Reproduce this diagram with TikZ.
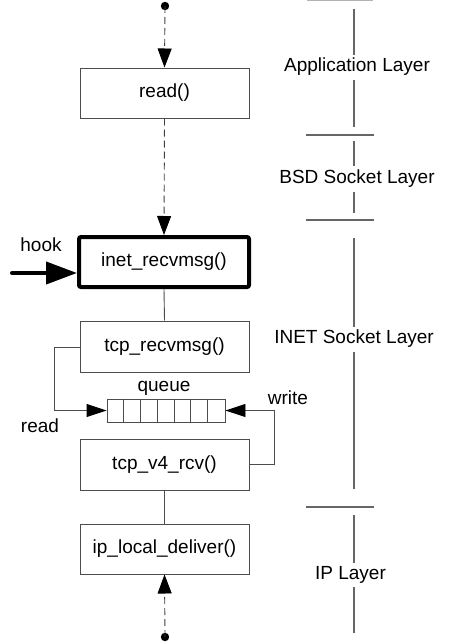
\documentclass[tikz,border=0pt]{standalone}
\usepackage{fontspec}
\setmainfont{Liberation Sans}
\usetikzlibrary{arrows.meta}
\begin{document}
\begin{tikzpicture}[x=1pt,y=-1pt,
  every node/.style={font=\fontsize{19}{21}\selectfont},
  fbox/.style={draw=black!70,line width=1pt,minimum width=169pt,minimum height=50pt,inner sep=0pt},
  hookbox/.style={draw=black,line width=4pt,rounded corners=2pt,minimum width=170pt,minimum height=50pt,inner sep=0pt},
  dsh/.style={draw=black!75,line width=0.9pt,dash pattern=on 7pt off 4pt},
  bigtip/.style={-{Triangle[length=19pt,width=14pt,color=black]}},
  qtip/.style={-{Triangle[length=20pt,width=13pt,color=black]}},
  link/.style={draw=black!70,line width=0.9pt},
  layer/.style={draw=black!60,line width=1.1pt},
  lbl/.style={inner sep=0pt},
  dot/.style={fill=black}
]
\useasboundingbox (0,0) rectangle (474,642);
% boxes
\node[fbox] (read) at (164.5,93) {read()};
\node[hookbox] (inet) at (164,262) {inet\_recvmsg()};
\node[fbox,minimum height=51pt] (tcprecv) at (164.5,346.5) {tcp\_recvmsg()};
\node[fbox,minimum height=51pt] (tcpv4) at (164.5,464.5) {tcp\_v4\_rcv()};
\node[fbox] (ipl) at (164.5,549) {ip\_local\_deliver()};
% queue
\node[draw=black!70,line width=0.9pt,minimum width=118pt,minimum height=23pt,inner sep=0pt] (q) at (166,410.5) {};
\foreach \i in {1,...,6} {
  \draw[black!70,line width=0.9pt] ([xshift=\i*16.857pt]q.north west) -- ([xshift=\i*16.857pt]q.south west);
}
\node[lbl] (qlbl) at (164,388) {queue};
% dots
\coordinate (topdot) at (165,6);
\coordinate (botdot) at (165,637);
\fill[dot] (topdot) circle (4.2pt);
\fill[dot] (botdot) circle (4.2pt);
% dashed arrows
\draw[dsh,bigtip] (topdot) -- (read.north);
\draw[dsh,bigtip] (read.south) -- (inet.north);
\draw[dsh,bigtip] (botdot) -- (ipl.south);
% solid links
\draw[link] (inet.south) -- (tcprecv.north);
\draw[link] (tcpv4.south) -- (ipl.north);
% read / write loops
\draw[link,qtip] ([yshift=-0.5pt]tcprecv.west) -| (54,410.5) -- (q.west);
\draw[link,qtip] (tcpv4.east) -| (274,410.5) -- (q.east);
\node[lbl] (readlbl) at (40,426) {read};
\node[lbl] (writelbl) at (288,398) {write};
% hook
\coordinate (hookstart) at (12,273);
\draw[line width=4pt,line cap=round,-{Triangle[length=31pt,width=22pt]}] (hookstart) -- (inet.west |- hookstart);
\node[lbl] (hooklbl) at (41,245) {hook};
% layer labels
\node[lbl] (app) at (357,67) {Application Layer};
\node[lbl] (bsd) at (357,179) {BSD Socket Layer};
\node[lbl] (inetl) at (354,339) {INET Socket Layer};
\node[lbl] (ipla) at (350.5,575) {IP Layer};
% layer lines
\draw[black!30,line width=2pt] (307,0.5) -- (373,0.5);
\draw[layer] (354,9) -- (354,55);
\draw[layer] (354,80) -- (354,127);
\draw[layer] (306,135) -- (374,135);
\draw[layer] (354,141) -- (354,166);
\draw[layer] (354,192) -- (354,213);
\draw[layer] (306,220) -- (374,220);
\draw[layer] (354,238) -- (354,327);
\draw[layer] (354,352) -- (354,489);
\draw[layer] (306,507) -- (374,507);
\draw[layer] (354,515) -- (354,563);
\draw[layer] (354,587) -- (354,633);
\end{tikzpicture}
\end{document}
